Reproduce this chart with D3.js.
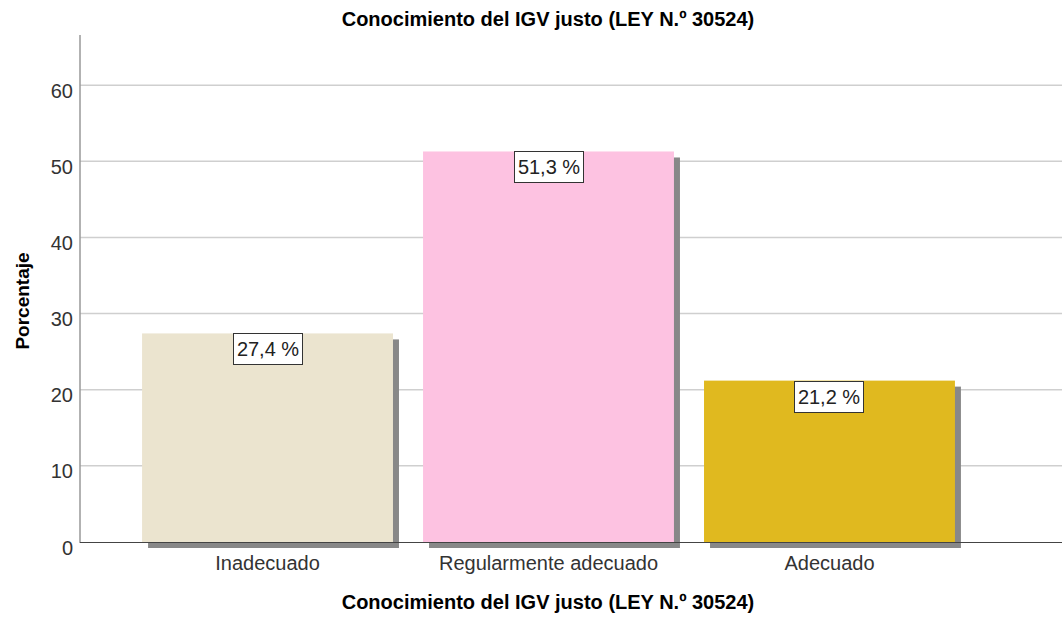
<!DOCTYPE html>
<html>
<head>
    <title>Conocimiento del IGV justo</title>
    <script src="https://d3js.org/d3.v7.min.js"></script>
    <style>
        body { margin: 0; background: #fff; }
        text { font-family: 'Liberation Sans', Arial, sans-serif; }
        .grid line { stroke: #cfcfcf; stroke-width: 1.5; }
        .tick text { fill: #333; font-size: 20px; }
    </style>
</head>
<body>
    <script>
        var categories = ["Inadecuado", "Regularmente adecuado", "Adecuado"];
        var values = [27.4, 51.3, 21.2];
        var colors = ["#ebe4cf", "#fdc2e1", "#e0b91f"];
        var yTicks = [0, 10, 20, 30, 40, 50, 60];

        var width = 1062, height = 621;
        var svg = d3.select("body").append("svg")
            .attr("width", width)
            .attr("height", height);

        var x = d3.scaleBand().domain(categories).range([112, 985]).padding(0.107);
        var y = d3.scaleLinear().domain([0, 66.6]).range([542, 35]);

        // gridlines
        svg.append("g").attr("class", "grid")
            .selectAll("line")
            .data(yTicks.slice(1))
            .enter().append("line")
            .attr("x1", 80).attr("x2", width)
            .attr("y1", function(d) { return y(d); })
            .attr("y2", function(d) { return y(d); });

        // shadows
        svg.append("g").selectAll("rect")
            .data(values)
            .enter().append("rect")
            .attr("x", function(d, i) { return x(categories[i]) + 6; })
            .attr("y", function(d) { return y(d) + 6; })
            .attr("width", x.bandwidth())
            .attr("height", function(d) { return y(0) - y(d); })
            .attr("fill", "#888");

        // bars
        svg.append("g").selectAll("rect")
            .data(values)
            .enter().append("rect")
            .attr("x", function(d, i) { return x(categories[i]); })
            .attr("y", function(d) { return y(d); })
            .attr("width", x.bandwidth())
            .attr("height", function(d) { return y(0) - y(d); })
            .attr("fill", function(d, i) { return colors[i]; });

        // y axis
        var yAxis = svg.append("g")
            .attr("transform", "translate(80,0)")
            .call(d3.axisLeft(y).tickValues(yTicks).tickSize(0).tickPadding(7));
        yAxis.select(".domain").remove();
        yAxis.selectAll(".tick text").attr("dy", "0.6em");
        svg.append("line")
            .attr("x1", 80).attr("x2", 80).attr("y1", 35).attr("y2", 543)
            .attr("stroke", "#999").attr("stroke-width", 1.5);

        // x axis
        var xAxis = svg.append("g")
            .attr("transform", "translate(0,542)")
            .call(d3.axisBottom(x).tickSize(0).tickPadding(14));
        xAxis.select(".domain").remove();
        svg.append("line")
            .attr("x1", 80).attr("x2", width).attr("y1", 542.5).attr("y2", 542.5)
            .attr("stroke", "#444").attr("stroke-width", 1);

        // value labels
        var lab = svg.append("g").selectAll("g")
            .data(values)
            .enter().append("g")
            .attr("transform", function(d, i) {
                return "translate(" + Math.round(x(categories[i]) + x.bandwidth() / 2) + "," + Math.round(y(d)) + ")";
            });
        lab.append("rect")
            .attr("x", -34.5).attr("y", 0.5)
            .attr("width", 69).attr("height", 31)
            .attr("fill", "#fff").attr("stroke", "#333").attr("stroke-width", 1);
        lab.append("text")
            .attr("text-anchor", "middle")
            .attr("y", 23)
            .attr("font-size", "20px")
            .attr("fill", "#222")
            .text(function(d) { return d3.format(".1f")(d).replace(".", ",") + " %"; });

        // titles
        svg.append("text")
            .attr("x", 548).attr("y", 26)
            .attr("text-anchor", "middle")
            .attr("font-size", "20px").attr("font-weight", "bold")
            .text("Conocimiento del IGV justo (LEY N.º 30524)");

        svg.append("text")
            .attr("x", 548).attr("y", 609)
            .attr("text-anchor", "middle")
            .attr("font-size", "20px").attr("font-weight", "bold")
            .text("Conocimiento del IGV justo (LEY N.º 30524)");

        svg.append("text")
            .attr("transform", "translate(29,301) rotate(-90)")
            .attr("text-anchor", "middle")
            .attr("font-size", "19px").attr("font-weight", "bold")
            .text("Porcentaje");
    </script>
</body>
</html>
